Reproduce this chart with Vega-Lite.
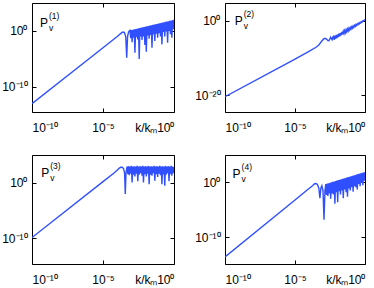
{
  "$schema": "https://vega.github.io/schema/vega-lite/v6.json",
  "padding": {"left": 1, "top": 2, "right": 0, "bottom": 0},
  "columns": 2,
  "spacing": {"row": 43, "column": 51},
  "bounds": "flush",
  "config": {
    "view": {"stroke": "black", "strokeWidth": 1},
    "axis": {"grid": false, "domain": false, "tickColor": "black", "tickSize": -4, "labelFont": "Liberation Sans", "labelFontSize": 12, "labelColor": "black", "titleFont": "Liberation Sans", "titleFontSize": 12, "titleFontWeight": "normal", "titleColor": "black", "labelPadding": 14},
    "axisY": {"labelPadding": 9},
    "text": {"font": "Liberation Sans", "color": "black"}
  },
  "datasets": {
    "d1": [
      {"k":1e-10,"P":1e-13},{"k":1e-5,"P":1e-3},{"k":1e-4,"P":0.1},{"k":1.995e-4,"P":0.45},{"k":2.512e-4,"P":0.63},{"k":3.162e-4,"P":0.56},{"k":3.981e-4,"P":0.1},{"k":4.677e-4,"P":1.6e-5},{"k":5.370e-4,"P":0.1},{"k":6.310e-4,"P":0.63},{"k":7.079e-4,"P":1.0},
      {"k":7.943e-4,"P":1.26},{"k":8.913e-4,"P":0.05},{"k":1e-3,"P":1.4},{"k":1.122e-3,"P":0.01},{"k":1.259e-3,"P":1.6},{"k":1.413e-3,"P":0.06},{"k":1.585e-3,"P":1.9},{"k":1.778e-3,"P":1.3e-4},{"k":1.995e-3,"P":2.2},{"k":2.239e-3,"P":0.08},{"k":2.512e-3,"P":2.5},{"k":2.818e-3,"P":0.03},{"k":3.162e-3,"P":3},{"k":3.548e-3,"P":1e-5},{"k":3.981e-3,"P":3.4},{"k":4.467e-3,"P":0.1},{"k":5.012e-3,"P":3.9},{"k":5.623e-3,"P":0.025},{"k":6.310e-3,"P":4.5},{"k":7.079e-3,"P":0.1},{"k":7.943e-3,"P":5.1},{"k":8.913e-3,"P":3e-3},{"k":1e-2,"P":5.9},{"k":1.122e-2,"P":2e-4},{"k":1.259e-2,"P":6.8},{"k":1.413e-2,"P":0.16},{"k":1.585e-2,"P":7.8},{"k":1.778e-2,"P":0.04},{"k":1.995e-2,"P":8.9},{"k":2.239e-2,"P":0.2},{"k":2.512e-2,"P":10.5},{"k":2.818e-2,"P":1e-3},{"k":3.162e-2,"P":12},{"k":3.548e-2,"P":0.25},{"k":3.981e-2,"P":13.8},{"k":4.467e-2,"P":0.016},{"k":5.012e-2,"P":15.8},{"k":5.623e-2,"P":0.32},{"k":6.310e-2,"P":18},{"k":7.079e-2,"P":0.063},{"k":7.943e-2,"P":21},{"k":8.913e-2,"P":0.4},{"k":0.1,"P":24},{"k":0.1122,"P":0.1},{"k":0.1259,"P":27.5},{"k":0.1413,"P":4e-3},{"k":0.1585,"P":32},{"k":0.1778,"P":0.63},{"k":0.1995,"P":36},{"k":0.2239,"P":0.1},{"k":0.2512,"P":43},{"k":0.2818,"P":0.8},{"k":0.3162,"P":49},{"k":0.3548,"P":8e-3},{"k":0.3981,"P":56},{"k":0.4467,"P":1},{"k":0.5012,"P":65},{"k":0.5623,"P":0.25},{"k":0.6310,"P":74},{"k":0.7079,"P":0.063},{"k":0.7943,"P":85},{"k":0.8913,"P":2},{"k":1,"P":100}
    ],
    "d2": [
      {"k":1e-10,"P":4e-21},{"k":1e-5,"P":5e-11},{"k":1e-4,"P":6.3e-9},{"k":3.162e-4,"P":7.9e-8},{"k":5.012e-4,"P":3.2e-7},{"k":7.943e-4,"P":3.2e-6},{"k":1.122e-3,"P":1.4e-5},{"k":1.413e-3,"P":2e-5},{"k":1.778e-3,"P":1.26e-5},{"k":2.239e-3,"P":5e-6},{"k":2.630e-3,"P":4.5e-6},{"k":3.162e-3,"P":1.6e-5},{"k":3.548e-3,"P":4e-5},{"k":3.981e-3,"P":1.6e-5},{"k":4.467e-3,"P":7.9e-6},{"k":5.012e-3,"P":4e-5},
      {"k":5.623e-3,"P":6.3e-5},{"k":6.310e-3,"P":8.3e-6},{"k":7.079e-3,"P":1e-4},{"k":7.943e-3,"P":1.4e-5},{"k":8.913e-3,"P":1.58e-4},{"k":1e-2,"P":2.4e-5},{"k":1.122e-2,"P":2.5e-4},{"k":1.259e-2,"P":4.2e-5},{"k":1.413e-2,"P":4e-4},{"k":1.585e-2,"P":7.2e-5},{"k":1.778e-2,"P":6.3e-4},{"k":1.995e-2,"P":1.26e-4},{"k":2.239e-2,"P":1e-3},{"k":2.512e-2,"P":2.2e-4},{"k":2.818e-2,"P":1.58e-3},{"k":3.162e-2,"P":3.8e-4},{"k":3.548e-2,"P":2.5e-3},{"k":3.981e-2,"P":6.6e-4},{"k":4.467e-2,"P":4e-3},{"k":5.012e-2,"P":1.15e-3},{"k":5.623e-2,"P":6.3e-3},{"k":6.310e-2,"P":2e-3},{"k":7.079e-2,"P":1e-2},{"k":7.943e-2,"P":3.5e-3},{"k":8.913e-2,"P":1.58e-2},{"k":0.1,"P":6e-3},{"k":0.1122,"P":2.5e-2},{"k":0.1259,"P":1.05e-2},{"k":0.1413,"P":4e-2},{"k":0.1585,"P":1.8e-2},{"k":0.1778,"P":6.3e-2},{"k":0.1995,"P":3.2e-2},{"k":0.2239,"P":0.1},{"k":0.2512,"P":5.5e-2},{"k":0.2818,"P":0.158},{"k":0.3162,"P":9.5e-2},{"k":0.3548,"P":0.25},{"k":0.3981,"P":0.166},{"k":0.4467,"P":0.4},{"k":0.5012,"P":0.29},{"k":0.5623,"P":0.63},{"k":0.6310,"P":0.5},{"k":0.7079,"P":1},{"k":0.7943,"P":0.87},{"k":0.8913,"P":1.58},{"k":1,"P":2}
    ],
    "d3": [
      {"k":1e-10,"P":1.26e-10},{"k":1e-5,"P":1.78},{"k":6.310e-5,"P":70.8},{"k":1.122e-4,"P":282},{"k":1.413e-4,"P":501},{"k":1.778e-4,"P":708},{"k":2.239e-4,"P":708},{"k":2.818e-4,"P":398},{"k":3.311e-4,"P":63},{"k":3.715e-4,"P":0.01},{"k":4.169e-4,"P":63},{"k":4.677e-4,"P":398},
      {"k":5.012e-4,"P":1000},{"k":5.623e-4,"P":40},{"k":6.310e-4,"P":1120},{"k":7.079e-4,"P":25},{"k":7.943e-4,"P":1000},{"k":8.913e-4,"P":50},{"k":1e-3,"P":1260},{"k":1.122e-3,"P":1.26},{"k":1.259e-3,"P":1000},{"k":1.413e-3,"P":32},{"k":1.585e-3,"P":1120},{"k":1.778e-3,"P":16},{"k":1.995e-3,"P":1000},{"k":2.239e-3,"P":50},{"k":2.512e-3,"P":1260},{"k":2.818e-3,"P":2},{"k":3.162e-3,"P":1000},{"k":3.548e-3,"P":32},{"k":3.981e-3,"P":1120},{"k":4.467e-3,"P":63},{"k":5.012e-3,"P":1000},{"k":5.623e-3,"P":20},{"k":6.310e-3,"P":1260},{"k":7.079e-3,"P":1.26},{"k":7.943e-3,"P":1000},{"k":8.913e-3,"P":40},{"k":1e-2,"P":1120},{"k":1.122e-2,"P":16},{"k":1.259e-2,"P":1000},{"k":1.413e-2,"P":50},{"k":1.585e-2,"P":1260},{"k":1.778e-2,"P":0.63},{"k":1.995e-2,"P":1000},{"k":2.239e-2,"P":32},{"k":2.512e-2,"P":1120},{"k":2.818e-2,"P":20},{"k":3.162e-2,"P":1000},{"k":3.548e-2,"P":63},{"k":3.981e-2,"P":1260},{"k":4.467e-2,"P":2.5},{"k":5.012e-2,"P":1000},{"k":5.623e-2,"P":40},{"k":6.310e-2,"P":1120},{"k":7.079e-2,"P":12.6},{"k":7.943e-2,"P":1000},{"k":8.913e-2,"P":50},{"k":0.1,"P":1260},{"k":0.1122,"P":25},{"k":0.1259,"P":1000},{"k":0.1413,"P":0.63},{"k":0.1585,"P":1120},{"k":0.1778,"P":40},{"k":0.1995,"P":1000},{"k":0.2239,"P":0.32},{"k":0.2512,"P":1260},{"k":0.2818,"P":32},{"k":0.3162,"P":1000},{"k":0.3548,"P":63},{"k":0.3981,"P":1120},{"k":0.4467,"P":2},{"k":0.5012,"P":1000},{"k":0.5623,"P":40},{"k":0.6310,"P":1260},{"k":0.7079,"P":20},{"k":0.7943,"P":1000},{"k":0.8913,"P":63},{"k":1,"P":800}
    ],
    "d4": [
      {"k":1e-10,"P":2.5e-14},{"k":1e-5,"P":6.3e-4},{"k":1e-4,"P":0.079},{"k":1.778e-4,"P":0.25},{"k":2.512e-4,"P":0.56},{"k":3.162e-4,"P":0.63},{"k":3.981e-4,"P":0.4},{"k":5.012e-4,"P":0.1},{"k":6.026e-4,"P":1.26e-3},{"k":7.079e-4,"P":0.1},{"k":8.318e-4,"P":0.25},{"k":1e-3,"P":0.032},{"k":1.175e-3,"P":1.6e-7},{"k":1.380e-3,"P":0.032},
      {"k":1.585e-3,"P":0.5},{"k":1.778e-3,"P":5e-3},{"k":1.995e-3,"P":0.6},{"k":2.239e-3,"P":3.2e-3},{"k":2.512e-3,"P":0.72},{"k":2.818e-3,"P":1e-2},{"k":3.162e-3,"P":0.87},{"k":3.548e-3,"P":1e-3},{"k":3.981e-3,"P":1.02},{"k":4.467e-3,"P":1e-2},{"k":5.012e-3,"P":1.23},{"k":5.623e-3,"P":6.3e-3},{"k":6.310e-3,"P":1.48},{"k":7.079e-3,"P":1.26e-4},{"k":7.943e-3,"P":1.78},{"k":8.913e-3,"P":1.6e-2},{"k":1e-2,"P":2.1},{"k":1.122e-2,"P":2.5e-4},{"k":1.259e-2,"P":2.6},{"k":1.413e-2,"P":2.5e-2},{"k":1.585e-2,"P":3.1},{"k":1.778e-2,"P":6.3e-3},{"k":1.995e-2,"P":3.6},{"k":2.239e-2,"P":3.2e-2},{"k":2.512e-2,"P":4.4},{"k":2.818e-2,"P":1.26e-3},{"k":3.162e-2,"P":5.2},{"k":3.548e-2,"P":5e-2},{"k":3.981e-2,"P":6.3},{"k":4.467e-2,"P":1.6e-2},{"k":5.012e-2,"P":7.6},{"k":5.623e-2,"P":2.5e-3},{"k":6.310e-2,"P":9.1},{"k":7.079e-2,"P":8e-2},{"k":7.943e-2,"P":11},{"k":8.913e-2,"P":3.2e-2},{"k":0.1,"P":12.9},{"k":0.1122,"P":0.126},{"k":0.1259,"P":15.5},{"k":0.1413,"P":2e-2},{"k":0.1585,"P":18.6},{"k":0.1778,"P":0.2},{"k":0.1995,"P":22.4},{"k":0.2239,"P":0.126},{"k":0.2512,"P":27},{"k":0.2818,"P":5e-2},{"k":0.3162,"P":32},{"k":0.3548,"P":0.5},{"k":0.3981,"P":39},{"k":0.4467,"P":0.2},{"k":0.5012,"P":46},{"k":0.5623,"P":0.8},{"k":0.6310,"P":55},{"k":0.7079,"P":0.32},{"k":0.7943,"P":66},{"k":0.8913,"P":2},{"k":1,"P":79}
    ]
  },
  "concat": [
    {
      "width": 142, "height": 109,
      "data": {"name": "d1"},
      "layer": [
        {"mark": {"type": "line", "color": "#3050ff", "strokeWidth": 1.4, "clip": true},
         "encoding": {
           "x": {"field": "k", "type": "quantitative", "scale": {"type": "log", "domain": [1e-10, 1], "nice": false}, "axis": {"values": [1e-10, 1e-5, 1], "labelExpr": "datum.value >= 0.5 ? '10⁰' : datum.value >= 1e-6 ? '10⁻⁵' : '10⁻¹⁰'", "title": "k/kₘ", "titleAnchor": null, "titleX": 125, "titleY": 19, "titleAlign": "right", "titleBaseline": "alphabetic"}},
           "y": {"field": "P", "type": "quantitative", "scale": {"type": "log", "domain": [3.16e-15, 1e5], "nice": false}, "axis": {"values": [1e-10, 1], "labelExpr": "datum.value >= 0.5 ? '10⁰' : '10⁻¹⁰'", "title": null}}
         }},
        {"mark": {"type": "line", "opacity": 0},
         "encoding": {
           "x": {"field": "k", "type": "quantitative", "axis": {"orient": "top", "labels": false, "title": null, "values": [1e-10, 1e-5, 1]}},
           "y": {"field": "P", "type": "quantitative", "axis": {"orient": "right", "labels": false, "title": null, "values": [1e-10, 1]}}
         }},
        {"data": {"values": [{}]}, "mark": {"type": "text", "fontSize": 12, "align": "left", "baseline": "alphabetic", "text": "P"},
         "encoding": {"x": {"datum": 3.6e-10, "type": "quantitative", "axis": null}, "y": {"datum": 5.2, "type": "quantitative", "axis": null}}},
        {"data": {"values": [{}]}, "mark": {"type": "text", "fontSize": 8.5, "align": "left", "baseline": "alphabetic", "text": "v", "dx": 9, "dy": 4},
         "encoding": {"x": {"datum": 3.6e-10, "type": "quantitative", "axis": null}, "y": {"datum": 5.2, "type": "quantitative", "axis": null}}},
        {"data": {"values": [{}]}, "mark": {"type": "text", "fontSize": 8.5, "align": "left", "baseline": "alphabetic", "text": "(1)", "dx": 9, "dy": -8},
         "encoding": {"x": {"datum": 3.6e-10, "type": "quantitative", "axis": null}, "y": {"datum": 5.2, "type": "quantitative", "axis": null}}}
      ],
      "resolve": {"axis": {"x": "independent", "y": "independent"}}
    },
    {
      "width": 140, "height": 109,
      "data": {"name": "d2"},
      "layer": [
        {"mark": {"type": "line", "color": "#3050ff", "strokeWidth": 1.4, "clip": true},
         "encoding": {
           "x": {"field": "k", "type": "quantitative", "scale": {"type": "log", "domain": [1e-10, 1], "nice": false}, "axis": {"values": [1e-10, 1e-5, 1], "labelExpr": "datum.value >= 0.5 ? '10⁰' : datum.value >= 1e-6 ? '10⁻⁵' : '10⁻¹⁰'", "title": "k/kₘ", "titleAnchor": null, "titleX": 123, "titleY": 19, "titleAlign": "right", "titleBaseline": "alphabetic"}},
           "y": {"field": "P", "type": "quantitative", "scale": {"type": "log", "domain": [3.16e-25, 6.31e4], "nice": false}, "axis": {"values": [1e-20, 1], "labelExpr": "datum.value >= 0.5 ? '10⁰' : '10⁻²⁰'", "title": null}}
         }},
        {"mark": {"type": "line", "opacity": 0},
         "encoding": {
           "x": {"field": "k", "type": "quantitative", "axis": {"orient": "top", "labels": false, "title": null, "values": [1e-10, 1e-5, 1]}},
           "y": {"field": "P", "type": "quantitative", "axis": {"orient": "right", "labels": false, "title": null, "values": [1e-20, 1]}}
         }},
        {"data": {"values": [{}]}, "mark": {"type": "text", "fontSize": 12, "align": "left", "baseline": "alphabetic", "text": "P"},
         "encoding": {"x": {"datum": 5e-10, "type": "quantitative", "axis": null}, "y": {"datum": 0.069, "type": "quantitative", "axis": null}}},
        {"data": {"values": [{}]}, "mark": {"type": "text", "fontSize": 8.5, "align": "left", "baseline": "alphabetic", "text": "v", "dx": 9, "dy": 4},
         "encoding": {"x": {"datum": 5e-10, "type": "quantitative", "axis": null}, "y": {"datum": 0.069, "type": "quantitative", "axis": null}}},
        {"data": {"values": [{}]}, "mark": {"type": "text", "fontSize": 8.5, "align": "left", "baseline": "alphabetic", "text": "(2)", "dx": 9, "dy": -8},
         "encoding": {"x": {"datum": 5e-10, "type": "quantitative", "axis": null}, "y": {"datum": 0.069, "type": "quantitative", "axis": null}}}
      ],
      "resolve": {"axis": {"x": "independent", "y": "independent"}}
    },
    {
      "width": 142, "height": 109,
      "data": {"name": "d3"},
      "layer": [
        {"mark": {"type": "line", "color": "#3050ff", "strokeWidth": 1.4, "clip": true},
         "encoding": {
           "x": {"field": "k", "type": "quantitative", "scale": {"type": "log", "domain": [1e-10, 1], "nice": false}, "axis": {"values": [1e-10, 1e-5, 1], "labelExpr": "datum.value >= 0.5 ? '10⁰' : datum.value >= 1e-6 ? '10⁻⁵' : '10⁻¹⁰'", "title": "k/kₘ", "titleAnchor": null, "titleX": 125, "titleY": 19, "titleAlign": "right", "titleBaseline": "alphabetic"}},
           "y": {"field": "P", "type": "quantitative", "scale": {"type": "log", "domain": [2e-15, 1.2e5], "nice": false}, "axis": {"values": [1e-10, 1], "labelExpr": "datum.value >= 0.5 ? '10⁰' : '10⁻¹⁰'", "title": null}}
         }},
        {"mark": {"type": "line", "opacity": 0},
         "encoding": {
           "x": {"field": "k", "type": "quantitative", "axis": {"orient": "top", "labels": false, "title": null, "values": [1e-10, 1e-5, 1]}},
           "y": {"field": "P", "type": "quantitative", "axis": {"orient": "right", "labels": false, "title": null, "values": [1e-10, 1]}}
         }},
        {"data": {"values": [{}]}, "mark": {"type": "text", "fontSize": 12, "align": "left", "baseline": "alphabetic", "text": "P"},
         "encoding": {"x": {"datum": 4.4e-10, "type": "quantitative", "axis": null}, "y": {"datum": 11.5, "type": "quantitative", "axis": null}}},
        {"data": {"values": [{}]}, "mark": {"type": "text", "fontSize": 8.5, "align": "left", "baseline": "alphabetic", "text": "v", "dx": 9, "dy": 4},
         "encoding": {"x": {"datum": 4.4e-10, "type": "quantitative", "axis": null}, "y": {"datum": 11.5, "type": "quantitative", "axis": null}}},
        {"data": {"values": [{}]}, "mark": {"type": "text", "fontSize": 8.5, "align": "left", "baseline": "alphabetic", "text": "(3)", "dx": 9, "dy": -8},
         "encoding": {"x": {"datum": 4.4e-10, "type": "quantitative", "axis": null}, "y": {"datum": 11.5, "type": "quantitative", "axis": null}}}
      ],
      "resolve": {"axis": {"x": "independent", "y": "independent"}}
    },
    {
      "width": 140, "height": 109,
      "data": {"name": "d4"},
      "layer": [
        {"mark": {"type": "line", "color": "#3050ff", "strokeWidth": 1.4, "clip": true},
         "encoding": {
           "x": {"field": "k", "type": "quantitative", "scale": {"type": "log", "domain": [1e-10, 1], "nice": false}, "axis": {"values": [1e-10, 1e-5, 1], "labelExpr": "datum.value >= 0.5 ? '10⁰' : datum.value >= 1e-6 ? '10⁻⁵' : '10⁻¹⁰'", "title": "k/kₘ", "titleAnchor": null, "titleX": 123, "titleY": 19, "titleAlign": "right", "titleBaseline": "alphabetic"}},
           "y": {"field": "P", "type": "quantitative", "scale": {"type": "log", "domain": [1.26e-15, 1e5], "nice": false}, "axis": {"values": [1e-10, 1], "labelExpr": "datum.value >= 0.5 ? '10⁰' : '10⁻¹⁰'", "title": null}}
         }},
        {"mark": {"type": "line", "opacity": 0},
         "encoding": {
           "x": {"field": "k", "type": "quantitative", "axis": {"orient": "top", "labels": false, "title": null, "values": [1e-10, 1e-5, 1]}},
           "y": {"field": "P", "type": "quantitative", "axis": {"orient": "right", "labels": false, "title": null, "values": [1e-10, 1]}}
         }},
        {"data": {"values": [{}]}, "mark": {"type": "text", "fontSize": 12, "align": "left", "baseline": "alphabetic", "text": "P"},
         "encoding": {"x": {"datum": 3.5e-10, "type": "quantitative", "axis": null}, "y": {"datum": 6.2, "type": "quantitative", "axis": null}}},
        {"data": {"values": [{}]}, "mark": {"type": "text", "fontSize": 8.5, "align": "left", "baseline": "alphabetic", "text": "v", "dx": 9, "dy": 4},
         "encoding": {"x": {"datum": 3.5e-10, "type": "quantitative", "axis": null}, "y": {"datum": 6.2, "type": "quantitative", "axis": null}}},
        {"data": {"values": [{}]}, "mark": {"type": "text", "fontSize": 8.5, "align": "left", "baseline": "alphabetic", "text": "(4)", "dx": 9, "dy": -8},
         "encoding": {"x": {"datum": 3.5e-10, "type": "quantitative", "axis": null}, "y": {"datum": 6.2, "type": "quantitative", "axis": null}}}
      ],
      "resolve": {"axis": {"x": "independent", "y": "independent"}}
    }
  ]
}
